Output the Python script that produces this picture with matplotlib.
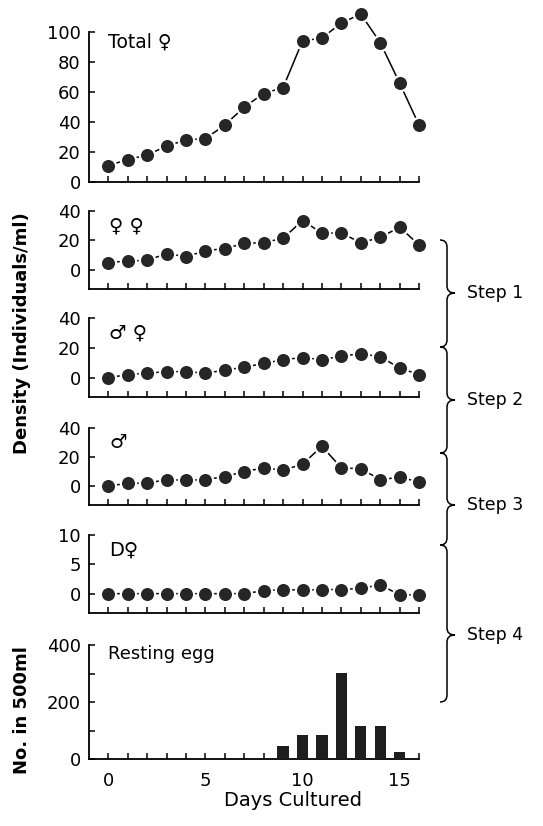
import numpy as np
import matplotlib
matplotlib.use('Agg')
import matplotlib.pyplot as plt
from matplotlib.path import Path
from matplotlib.patches import PathPatch

plt.rcParams['font.family'] = ['DejaVu Sans']

days = np.arange(0, 17)

total_f = [11, 15, 18, 24, 28, 29, 38, 50, 59, 63, 94, 96, 106, 112, 93, 66, 38]
ff = [5, 6, 6.5, 11, 9, 13, 14.5, 18, 18.5, 21.5, 33.5, 25, 25, 18.5, 22, 29, 17]
mf = [0, 2, 3, 4, 4, 3, 5, 7, 9.5, 12, 13.5, 12, 14.5, 16, 14, 6.5, 2]
m = [0, 2, 2, 4.5, 4, 4.5, 6.5, 10, 12.5, 11, 15, 27.5, 12.5, 12, 4.5, 6, 3]
df = [0, 0, 0, 0, 0, 0, 0, 0, 0.5, 0.7, 0.6, 0.7, 0.7, 0.9, 1.5, -0.2, -0.2]

egg_days = [9, 10, 11, 12, 13, 14, 15]
eggs = [46, 84, 84, 302, 116, 116, 23]

series = [total_f, ff, mf, m, df]
labels = ['Total \u2640', '\u2640 \u2640', '\u2642 \u2640', '\u2642', 'D\u2640']
ylims = [(0, 100), (-13, 40), (-13, 40), (-13, 40), (-3.3, 10)]
yticks = [[0, 20, 40, 60, 80, 100], [0, 20, 40], [0, 20, 40], [0, 20, 40], [0, 5, 10]]

steps = ['Step 1', 'Step 2', 'Step 3', 'Step 4']

W, H = 543, 826
fig = plt.figure(figsize=(W / 100, H / 100), dpi=100)

# panel boxes in pixels: top, bottom
boxes = [(32, 182), (211, 289), (318, 397), (428, 505), (535, 613), (645, 759)]
left, right = 89, 419


def make_ax(top, bot):
    ax = fig.add_axes([left / W, 1 - bot / H, (right - left) / W, (bot - top) / H])
    ax.spines['top'].set_visible(False)
    ax.spines['right'].set_visible(False)
    for s in ['left', 'bottom']:
        ax.spines[s].set_linewidth(1.3)
    ax.set_xlim(-1, 16)
    ax.set_xticks(range(0, 17))
    ax.tick_params(direction='in', length=4, width=1.1, labelsize=13, pad=6)
    ax.patch.set_alpha(0)
    return ax


for i in range(5):
    ax = make_ax(*boxes[i])
    ax.plot(days, series[i], '-', color='black', lw=1.1, marker='o', ms=11,
            mfc='#262626', mec='white', mew=1.6, clip_on=False, zorder=3)
    ax.set_ylim(*ylims[i])
    ax.set_yticks(yticks[i])
    ax.set_xticklabels([])
    if i == 0:
        ax.text(0, 93, labels[i], fontsize=13.5, va='center', ha='left')
    else:
        ax.text(0.05, ylims[i][1] * 0.75, labels[i], fontsize=14, va='center', ha='left')

ax = make_ax(*boxes[5])
ax.bar(egg_days, eggs, width=0.58, color='#1e1e1e', zorder=3)
ax.set_ylim(0, 400)
ax.set_yticks([0, 100, 200, 300, 400])
ax.set_yticklabels(['0', '', '200', '', '400'])
ax.set_xticklabels(['0', '', '', '', '', '5', '', '', '', '', '10', '', '', '', '', '15', ''])
ax.tick_params(axis='x', pad=9)
ax.text(0, 370, 'Resting egg', fontsize=13, va='center', ha='left')

fig.text(293 / W, 1 - 800 / H, 'Days Cultured', fontsize=14, ha='center', va='center')
fig.text(22 / W, 1 - 333 / H, 'Density (Individuals/ml)', fontsize=13, fontweight='bold',
         rotation=90, ha='center', va='center')
fig.text(22 / W, 1 - 710 / H, 'No. in 500ml', fontsize=13, fontweight='bold',
         rotation=90, ha='center', va='center')

# curly braces on the right
brace_spans = [(240, 347, 293), (347, 453, 400), (453, 545, 505), (545, 702, 635)]


def brace(y0, y1, ym, x=447):
    c = 7
    pts = [(x - 7, y0), (x, y0), (x, y0 + c),
           (x, ym - c),
           (x, ym), (x + 8, ym),
           (x, ym), (x, ym + c),
           (x, y1 - c),
           (x, y1), (x - 7, y1)]
    codes = [Path.MOVETO, Path.CURVE3, Path.CURVE3,
             Path.LINETO,
             Path.CURVE3, Path.CURVE3,
             Path.CURVE3, Path.CURVE3,
             Path.LINETO,
             Path.CURVE3, Path.CURVE3]
    pts = [(px / W, 1 - py / H) for px, py in pts]
    fig.add_artist(PathPatch(Path(pts, codes), fill=False, lw=1.1,
                             edgecolor='black', transform=fig.transFigure))


for (y0, y1, ym), s in zip(brace_spans, steps):
    brace(y0, y1, ym)
    fig.text(467 / W, 1 - ym / H, s, fontsize=12.5, ha='left', va='center')

fig.savefig('out.png', dpi=100)
